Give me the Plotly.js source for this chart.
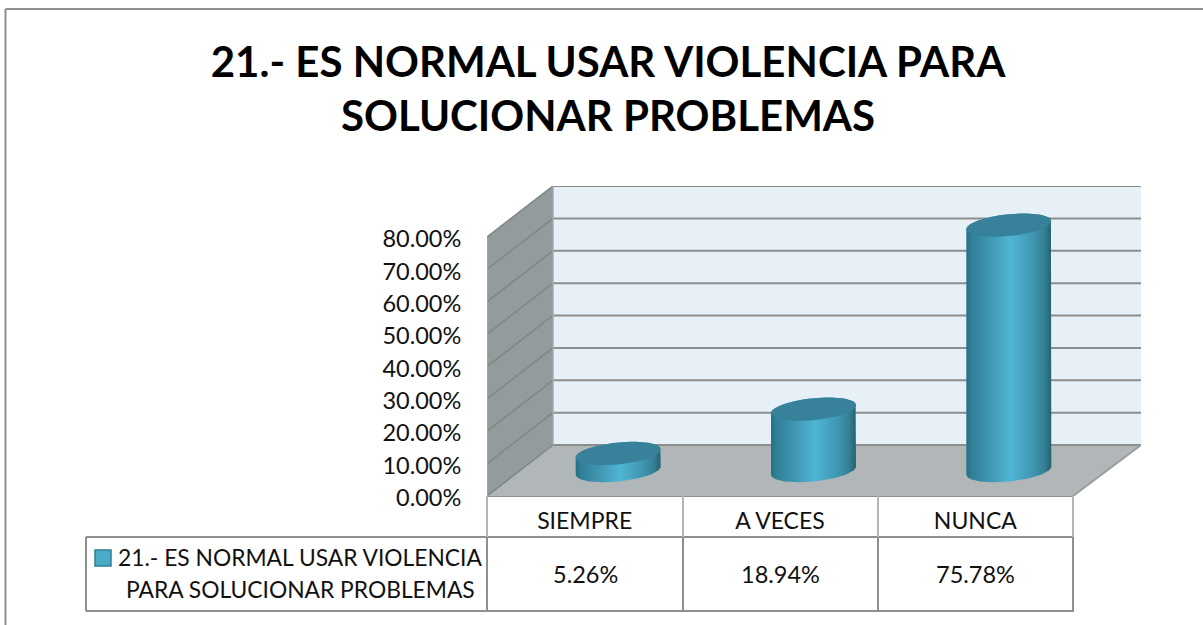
<!DOCTYPE html>
<html><head><meta charset="utf-8">
<script src="https://cdn.plot.ly/plotly-3.0.1.min.js"></script>
<style>html,body{margin:0;padding:0;background:#fff}#c{width:1203px;height:625px}</style>
</head><body><div id="c"></div>
<script>
// ---- data ----
const categories = ["SIEMPRE", "A VECES", "NUNCA"];
const values = [5.26, 18.94, 75.78];
const valueLabels = ["5.26%", "18.94%", "75.78%"];
const axisTicks = [0, 10, 20, 30, 40, 50, 60, 70, 80];
const axisTickLabels = ["0.00%", "10.00%", "20.00%", "30.00%", "40.00%", "50.00%", "60.00%", "70.00%", "80.00%"];
const titleLines = ["21.- ES NORMAL USAR VIOLENCIA PARA", "SOLUCIONAR PROBLEMAS"];
const seriesLines = ["21.- ES NORMAL USAR VIOLENCIA", "PARA SOLUCIONAR PROBLEMAS"];

// ---- plot geometry (pixels of the page) ----
const W = 1203, H = 625;
const L = 487, R = 1141, T = 186, B = 496;
const catPx = 195.33, unitPx = 3.2375;      // px per category, px per percentage point
const depthX = 66 / catPx, depthY = 51 / unitPx;
const xMax = (R - L) / catPx, yMax = (B - T) / unitPx;
const FONT = "Lato, 'Open Sans', sans-serif";
const GRID = "#8d8d8d", TABLE = "#8f8f8f";
const px = v => (v - L) / (R - L);
const py = v => (B - v) / (B - T);

const shapes = [];
const poly = (pts, fill) => shapes.push({type: "path", xref: "x", yref: "y", layer: "below",
  path: "M" + pts.map(p => p.join(" ")).join(" L") + " Z", fillcolor: fill, line: {width: 0}});
const seg = (x0, y0, x1, y1, color, width) => shapes.push({type: "line", xref: "x", yref: "y", layer: "below",
  x0, y0, x1, y1, line: {color, width}});
const pline = (x0, y0, x1, y1, color) => shapes.push({type: "line", xref: "paper", yref: "paper", layer: "below",
  x0: px(x0), y0: py(y0), x1: px(x1), y1: py(y1), line: {color: color || TABLE, width: 2}});

// outer frame: only the top and left edges are in the picture
pline(5.5, 9, W, 9);
pline(5.5, 9, 5.5, H);

// walls and floor
poly([[depthX, depthY], [xMax, depthY], [xMax, yMax], [depthX, yMax]], "#e8f0f7");
poly([[0, 0], [depthX, depthY], [depthX, yMax], [0, 80]], "#949b9d");
poly([[0, 0], [categories.length, 0], [xMax, depthY], [depthX, depthY]], "#b1b6b9");
axisTicks.forEach(v => {
  seg(depthX, v + depthY, xMax, v + depthY, GRID, 2);
  seg(0, v, depthX, v + depthY, "#7f8688", 1.5);
});
seg(depthX, depthY, depthX, yMax, "#a3a9ab", 1.5);
seg(0, 0, 0, 80, "#a0a4a6", 2);
seg(categories.length, 0, xMax, depthY, "#9a9ea0", 2);

// table
pline(L, B, 1073, B);
pline(86, 537, 1074, 537);
pline(86, 611, 1074, 611);
pline(86, 537, 86, 611);
[683, 878, 1073].forEach(x => pline(x, B, x, 537, "#b4b4b4"));
pline(L, B, L, 537, "#b4b4b4");
[L, 683, 878, 1073].forEach(x => pline(x, 537, x, 611));
shapes.push({type: "rect", xref: "paper", yref: "paper", layer: "below",
  x0: px(95), x1: px(111), y0: py(550), y1: py(566),
  fillcolor: "#4aaac8", line: {color: "#2f7f96", width: 1.5}});

// ---- cylinders ----
const radX = 42.5, radY = 11, tilt = 0.095;
const centerX = i => i + 0.5 + depthX / 2 + 0.5 / catPx;
const rimPoint = (cx, cy, a) => {
  const dx = Math.cos(a) * radX;
  return [cx + dx / catPx, cy + (tilt * dx + Math.sin(a) * radY) / unitPx];
};
const arc = (cx, cy, from, to) => {
  const out = [];
  for (let i = 0; i <= 48; i++) out.push(rimPoint(cx, cy, from + (to - from) * i / 48));
  return out;
};
const traces = [{
  type: "bar", x: categories.map((c, i) => centerX(i)), y: values,
  base: depthY / 2, width: 0.38, marker: {color: "#3f93ad", line: {width: 0}},
  hoverinfo: "skip", showlegend: false
}];
values.forEach((v, i) => {
  const cx = centerX(i), y0 = depthY / 2, y1 = y0 + v;
  const body = arc(cx, y0, Math.PI, 2 * Math.PI).concat(arc(cx, y1, 0, Math.PI));
  traces.push({type: "scatter", mode: "lines", x: body.map(p => p[0]), y: body.map(p => p[1]),
    line: {width: 0, color: "rgba(0,0,0,0)"}, fill: "toself", hoverinfo: "skip", showlegend: false,
    fillgradient: {type: "horizontal", colorscale: [
      [0, "#266f84"], [0.06, "#2f7f97"], [0.25, "#3e93ae"], [0.52, "#50b5d5"],
      [0.78, "#3f97b2"], [0.92, "#347f95"], [1, "#25626f"]]}});
  const top = arc(cx, y1, 0, 2 * Math.PI);
  traces.push({type: "scatter", mode: "lines", x: top.map(p => p[0]), y: top.map(p => p[1]),
    line: {width: 0, color: "rgba(0,0,0,0)"}, fill: "toself", fillcolor: "#37819a",
    hoverinfo: "skip", showlegend: false});
});

// ---- table text ----
const note = (text, x, y, size) => ({text, x: px(x), y: py(y), xref: "paper", yref: "paper",
  xanchor: "center", yanchor: "middle", showarrow: false, font: {family: FONT, size, color: "#111"}});
const annotations = [
  note(seriesLines[0], 300, 557, 22.8),
  note(seriesLines[1], 300, 589, 22.8),
  ...valueLabels.map((t, i) => note(t, 585 + i * catPx, 574, 23.5))
];

Plotly.newPlot("c", traces, {
  width: W, height: H, showlegend: false,
  paper_bgcolor: "#fff", plot_bgcolor: "rgba(0,0,0,0)",
  margin: {l: L, r: W - R, t: T, b: H - B, pad: 0, autoexpand: false},
  title: {text: titleLines.join("<br>"), x: 608 / W, xanchor: "center", xref: "container",
    y: 1 - 76.5 / H, yanchor: "middle", yref: "container", automargin: false,
    font: {family: FONT, size: 42, weight: 700, color: "#000"}},
  xaxis: {range: [0, xMax], tickmode: "array", tickvals: categories.map((c, i) => i + 0.5),
    ticktext: categories, showgrid: false, zeroline: false, showline: false,
    ticks: "outside", ticklen: 4, tickcolor: "rgba(0,0,0,0)", tickfont: {family: FONT, size: 23, color: "#111"}},
  yaxis: {range: [0, yMax], tickmode: "array", tickvals: axisTicks, ticktext: axisTickLabels,
    showgrid: false, zeroline: false, showline: false, ticklabelshift: 2,
    ticks: "outside", ticklen: 20, tickcolor: "rgba(0,0,0,0)", tickfont: {family: FONT, size: 23.5, color: "#111"}},
  barmode: "overlay", shapes, annotations
}, {displayModeBar: false, responsive: false});
</script></body></html>
